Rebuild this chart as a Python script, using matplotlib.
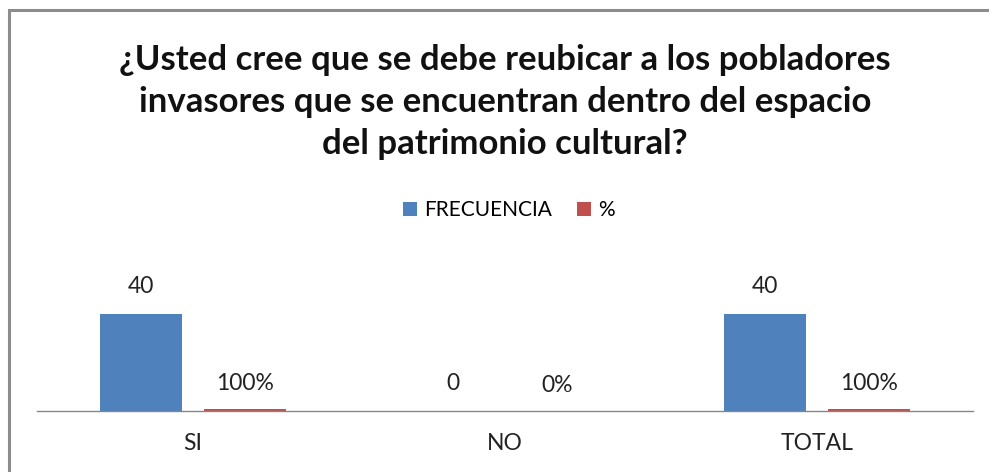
import matplotlib.pyplot as plt
from matplotlib.patches import Rectangle
import numpy as np

categories = ["SI", "NO", "TOTAL"]
frecuencia = [40, 0, 40]
porcentaje = [1.0, 0.0, 1.0]
frecuencia_labels = ["40", "0", "40"]
porcentaje_labels = ["100%", "0%", "100%"]

title = ("¿Usted cree que se debe reubicar a los pobladores\n"
         "invasores que se encuentran dentro del espacio\n"
         "del patrimonio cultural?")

blue = "#4F81BD"
red = "#C0504D"
font = "Lato"
txt = "#222222"

fig = plt.figure(figsize=(9.89, 4.72), dpi=100)
fig.patch.set_facecolor("white")

# chart frame (right and bottom edges fall outside the picture)
fig.patches.append(Rectangle((8.5 / 989, -0.1), 1.2, 1 - 9.5 / 472 + 0.1,
                             transform=fig.transFigure, fill=False,
                             edgecolor="#8c8c8c", linewidth=2.2))

ax = fig.add_axes([37 / 989, 1 - 411 / 472, 936 / 989, 0.2564])
x = np.arange(len(categories))
w = 0.263
off = 0.167
b1 = ax.bar(x - off, frecuencia, w, color=blue, label="FRECUENCIA")
b2 = ax.bar(x + off, porcentaje, w, color=red, label="%")

ax.bar_label(b1, labels=frecuencia_labels, padding=12.5, fontsize=16.5,
             family=font, color=txt)
ax.bar_label(b2, labels=porcentaje_labels, padding=10.5, fontsize=16.5,
             family=font, color=txt)

ax.set_xlim(-0.5, 2.5)
ax.set_ylim(0, 50)
ax.set_xticks(x)
ax.set_xticklabels(categories, fontsize=16.5, family=font, color=txt)
ax.tick_params(axis="x", length=0, pad=16)
ax.set_yticks([])
for s in ["top", "left", "right"]:
    ax.spines[s].set_visible(False)
ax.spines["bottom"].set_color("#868686")
ax.spines["bottom"].set_linewidth(1.0)

fig.text(505 / 989, 1 - 102 / 472, title, ha="center", va="center",
         fontsize=25, fontweight="bold", family=font, linespacing=1.4,
         color="#111111")

leg = fig.legend(handles=[b1, b2], loc="center", ncol=2,
                 bbox_to_anchor=(509 / 989, 1 - 210 / 472), frameon=False,
                 handlelength=0.65, handleheight=0.65, handletextpad=0.35,
                 columnspacing=1.2, prop={"family": font, "size": 15})

plt.savefig("out.png", dpi=100)
